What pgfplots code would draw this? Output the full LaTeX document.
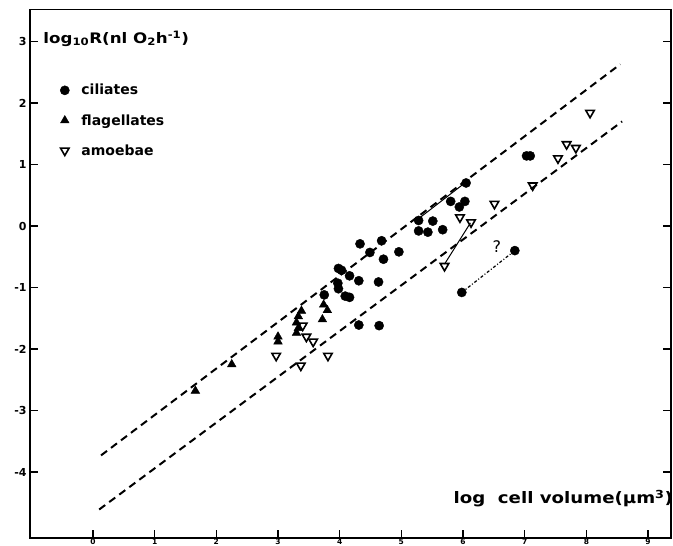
\documentclass[border=0pt]{standalone}
\usepackage{fontspec}
\setmainfont{DejaVu Sans}
\newfontfamily\widefont{DejaVu Sans}[FakeStretch=1.15]
\usepackage{pgfplots}
\pgfplotsset{compat=1.18}

% respiration rate against cell volume, three groups of protozoa
\pgfplotstableread{
x y
6.05 0.70
5.80 0.40
6.03 0.40
5.94 0.31
5.28 0.09
5.51 0.08
5.28 -0.08
5.43 -0.10
5.67 -0.06
4.33 -0.29
4.68 -0.24
4.49 -0.43
4.96 -0.42
4.71 -0.54
3.98 -0.69
4.03 -0.72
4.16 -0.81
4.31 -0.89
4.63 -0.91
3.97 -0.93
3.98 -1.02
4.09 -1.14
4.16 -1.16
3.75 -1.12
4.31 -1.61
4.64 -1.62
7.03 1.14
7.09 1.14
6.84 -0.40
5.98 -1.08
}\ciliates

\pgfplotstableread{
x y
1.66 -2.68
2.25 -2.25
3.00 -1.80
3.00 -1.88
3.38 -1.38
3.33 -1.47
3.30 -1.57
3.33 -1.66
3.30 -1.74
3.74 -1.28
3.80 -1.37
3.72 -1.52
}\flagellates

\pgfplotstableread{
x y
8.06 1.84
7.68 1.33
7.83 1.27
7.54 1.10
7.13 0.66
6.51 0.36
6.13 0.06
5.95 0.14
5.70 -0.65
3.40 -1.62
3.46 -1.80
3.57 -1.88
2.97 -2.11
3.37 -2.27
3.81 -2.11
}\amoebae

\begin{document}
\begin{tikzpicture}
\begin{axis}[
  x=61.67pt, y=61.5pt,
  xmin=-1.02, xmax=9.37, ymin=-5.07, ymax=3.52,
  axis line style={line width=1.5pt},
  tick align=inside,
  xtick pos=bottom,
  ytick pos=both,
  xtick={0,1,2,3,4,5,6,7,8,9},
  xticklabels={0,1,2,3,4,5,6,7,8,9},
  ytick={-4,-3,-2,-1,0,1,2,3},
  yticklabels={-4,-3,-2,-1,0,1,2,3},
  major tick length=8pt,
  tick style={line width=1.3pt, black},
  yticklabel style={font=\bfseries\fontsize{11}{11}\selectfont},
  xticklabel style={font=\bfseries\fontsize{7.5}{7.5}\selectfont, inner sep=0.6pt},
  clip=false,
  legend cell align=left,
  legend style={draw=none, fill=none,
    at={(0.042,0.79)}, anchor=west,
    row sep=14pt,
    /tikz/every odd column/.append style={column sep=10pt},
    font=\bfseries\fontsize{14}{14}\selectfont},
]
% bounds of the two regression bands
\addplot[forget plot, black, line width=2pt, dash pattern=on 7.5pt off 5pt]
  coordinates {(0.13,-3.73) (8.55,2.63)};
\addplot[forget plot, black, line width=2pt, dash pattern=on 7.5pt off 5pt]
  coordinates {(0.10,-4.61) (8.58,1.70)};
% links between measurements on the same organism
\addplot[forget plot, black, line width=1pt] coordinates {(5.28,0.12) (6.03,0.70)};
\addplot[forget plot, black, line width=1pt] coordinates {(5.70,-0.62) (6.12,0.05)};
\addplot[forget plot, black, line width=1.2pt, dash pattern=on 3pt off 2pt on 1pt off 2pt]
  coordinates {(5.98,-1.08) (6.84,-0.40)};

\addplot[only marks, mark=*, mark size=4.6pt, black] table {\ciliates};
\addlegendentry{ciliates}
\addplot[only marks, mark=triangle*, mark size=5pt, black] table {\flagellates};
\addlegendentry{flagellates}
\addplot[only marks, mark=triangle, mark size=4.9pt, black,
  mark options={rotate=180, line width=1.6pt, fill=white}] table {\amoebae};
\addlegendentry{amoebae}

\node[font=\fontsize{16}{16}\selectfont] at (axis cs:6.55,-0.33) {?};
\node[anchor=base west, font=\widefont\bfseries\fontsize{14.5}{14.5}\selectfont]
  at (axis cs:-0.86,2.97) {log\textsubscript{10}R(nl O\textsubscript{2}h\textsuperscript{-1})};
\node[anchor=base west, font=\widefont\bfseries\fontsize{15.8}{15.8}\selectfont]
  at (axis cs:5.79,-4.52) {log\hspace{0.8em}cell volume(μm\textsuperscript{3})};

\coordinate (bbsw) at (axis cs:-1.508,-5.187);
\coordinate (bbne) at (axis cs:9.405,3.675);
\end{axis}
\pgfresetboundingbox
\useasboundingbox (bbsw) rectangle (bbne);
\end{tikzpicture}
\end{document}
